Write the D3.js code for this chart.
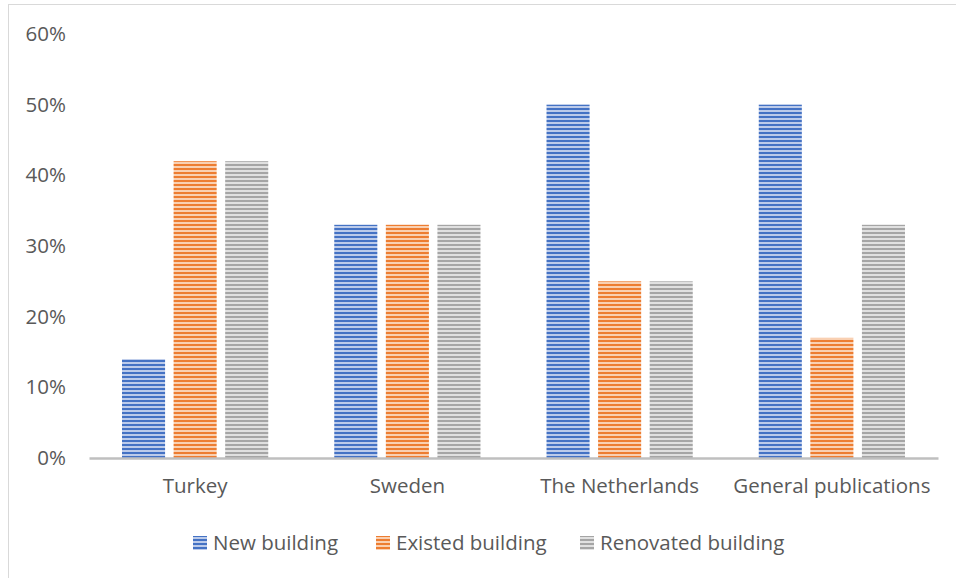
<!DOCTYPE html>
<html>
<head>
<meta charset="utf-8">
<script src="https://cdn.jsdelivr.net/npm/d3@7"></script>
<style>
  html, body { margin: 0; padding: 0; background: #fff; }
  svg { display: block; }
  text { font-family: "Open Sans", "Noto Sans", sans-serif; fill: #595959; }
</style>
</head>
<body>
<svg id="chart" width="956" height="578"></svg>
<script>
const categories = ["Turkey", "Sweden", "The Netherlands", "General publications"];
const seriesNames = ["New building", "Existed building", "Renovated building"];
const newBuilding = [14, 33, 50, 50];
const existedBuilding = [42, 33, 25, 17];
const renovatedBuilding = [42, 33, 25, 33];
const yTicks = [0, 10, 20, 30, 40, 50, 60];

const seriesValues = [newBuilding, existedBuilding, renovatedBuilding];
const colors = [
  { dark: "#4472C4", light: "#bccbea" },
  { dark: "#ED7D31", light: "#f9d0b2" },
  { dark: "#A5A5A5", light: "#e0e0e0" }
];

const svg = d3.select("#chart");
const W = 956, H = 578;
const margin = { left: 89, right: 18, top: 34, bottom: 120 };
const plotRight = W - margin.right;
const plotBottom = H - margin.bottom;
const fontSize = "20.5px";

// Striped fills for the bars
const defs = svg.append("defs");
colors.forEach((c, i) => {
  const p = defs.append("pattern")
    .attr("id", "stripe" + i)
    .attr("patternUnits", "userSpaceOnUse")
    .attr("width", 8).attr("height", 4);
  p.append("rect").attr("width", 8).attr("height", 4).attr("fill", c.light);
  p.append("rect").attr("y", 0).attr("width", 8).attr("height", 2).attr("fill", c.dark);
});

// Chart frame
svg.append("rect")
  .attr("x", 8.5).attr("y", 4.5)
  .attr("width", W + 10).attr("height", H + 10)
  .attr("fill", "none").attr("stroke", "#d9d9d9").attr("stroke-width", 1);

const x0 = d3.scaleBand().domain(categories).range([margin.left, plotRight]).paddingInner(0).paddingOuter(0);
const x1 = d3.scaleBand().domain(seriesNames).range([0, x0.bandwidth()]).paddingInner(0.165).paddingOuter(0.64);
const y = d3.scaleLinear().domain([0, 60]).range([plotBottom, margin.top]);

// Y axis labels
const yAxis = d3.axisLeft(y).tickValues(yTicks).tickFormat(d => d + "%").tickSize(0).tickPadding(0);
const yg = svg.append("g").attr("transform", `translate(66,0)`).call(yAxis);
yg.select(".domain").remove();
yg.selectAll("text").style("font-size", fontSize).attr("fill", "#595959");

// Bars
categories.forEach((cat, ci) => {
  const g = svg.append("g").attr("transform", `translate(${x0(cat)},0)`);
  seriesNames.forEach((s, si) => {
    const v = seriesValues[si][ci];
    g.append("rect")
      .attr("x", x1(s))
      .attr("y", y(v))
      .attr("width", x1.bandwidth())
      .attr("height", y(0) - y(v))
      .attr("fill", `url(#stripe${si})`);
  });
});

// X axis
const xAxis = d3.axisBottom(x0).tickSize(0).tickPadding(20);
const xg = svg.append("g").attr("transform", `translate(0,${plotBottom})`).call(xAxis);
xg.select(".domain").attr("stroke", "#bfbfbf").attr("stroke-width", 2.5);
xg.selectAll("text").style("font-size", fontSize).attr("fill", "#595959");

// Legend
const legendX = [193, 376, 580];
const legend = svg.append("g").attr("transform", "translate(0,543)");
seriesNames.forEach((s, i) => {
  const lg = legend.append("g").attr("transform", `translate(${legendX[i]},0)`);
  lg.append("rect").attr("x", 0).attr("y", -7).attr("width", 14).attr("height", 14)
    .attr("fill", `url(#stripe${i})`);
  lg.append("text").attr("x", 20).attr("y", 0).attr("dy", "0.35em")
    .style("font-size", fontSize).text(s);
});
</script>
</body>
</html>
